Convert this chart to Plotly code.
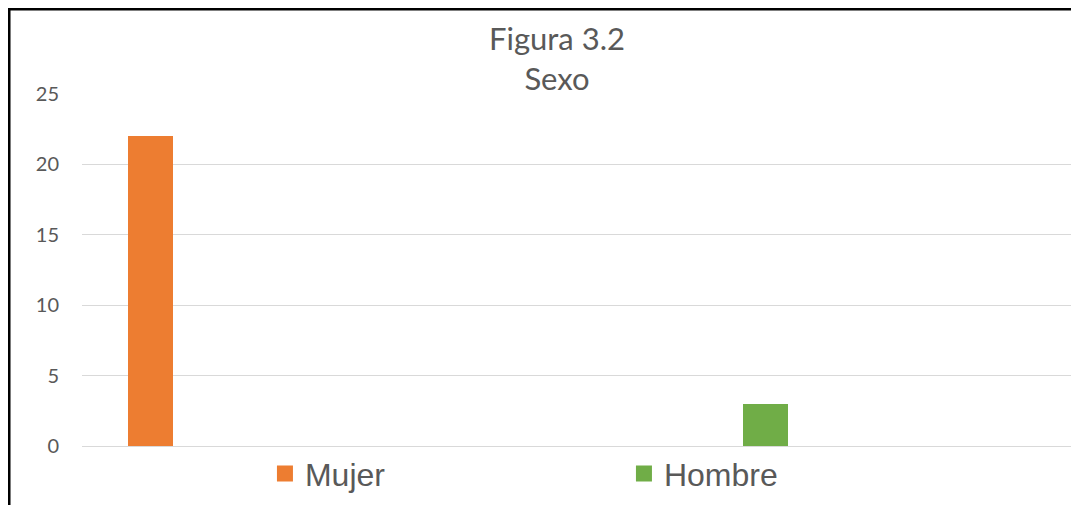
import plotly.graph_objects as go

categories = ["Mujer", "Hombre"]
values = [22, 3]
colors = ["#ED7D31", "#70AD47"]
y_ticks = [0, 5, 10, 15, 20, 25]
title_lines = ["Figura 3.2", "Sexo"]

# page body has an 8px margin, so the figure is sized/offset to fit the window
W, H = 1071, 497

fig = go.Figure()
for cat, val, col in zip(categories, values, colors):
    fig.add_trace(go.Bar(x=[cat], y=[val], marker=dict(color=col, line=dict(width=0)),
                         width=0.0732, showlegend=False, name=cat))
for cat, col in zip(categories, colors):
    fig.add_trace(go.Scatter(x=[None], y=[None], mode="markers", name=cat,
                             marker=dict(symbol="square", size=16, color=col)))

fig.update_layout(
    width=W, height=H,
    margin=dict(l=74, r=0, t=86, b=59),
    paper_bgcolor="white", plot_bgcolor="white",
    title=dict(text="<br>".join(title_lines), x=549 / W, xanchor="center",
               y=1 - 42 / H, yanchor="top", yref="container",
               font=dict(family="Lato", size=31, color="#595959")),
    xaxis=dict(type="category", range=[-0.1114, 1.5098], showticklabels=False,
               showgrid=False, zeroline=False, showline=False, fixedrange=True),
    yaxis=dict(range=[0, 25], tickvals=y_ticks, showgrid=True, gridcolor="#D9D9D9",
               gridwidth=1, zeroline=True, zerolinecolor="#D9D9D9", zerolinewidth=1,
               showline=False, ticklabelstandoff=22,
               tickfont=dict(family="Lato", size=20, color="#595959")),
    legend=dict(orientation="h", x=0.1835, xanchor="left", y=-0.079, yanchor="middle",
                entrywidth=314, entrywidthmode="pixels",
                font=dict(family="Liberation Sans", size=32, color="#595959"),
                bgcolor="rgba(0,0,0,0)"),
    bargap=0,
    shapes=[
        dict(type="line", xref="paper", yref="paper", x0=-0.0732, x1=-0.0732, y0=1.2415, y1=-0.25,
             line=dict(color="black", width=3)),
        dict(type="line", xref="paper", yref="paper", x0=-0.0747, x1=1.0, y0=1.2415, y1=1.2415,
             line=dict(color="black", width=3)),
    ],
)

fig.write_html("out.html")
